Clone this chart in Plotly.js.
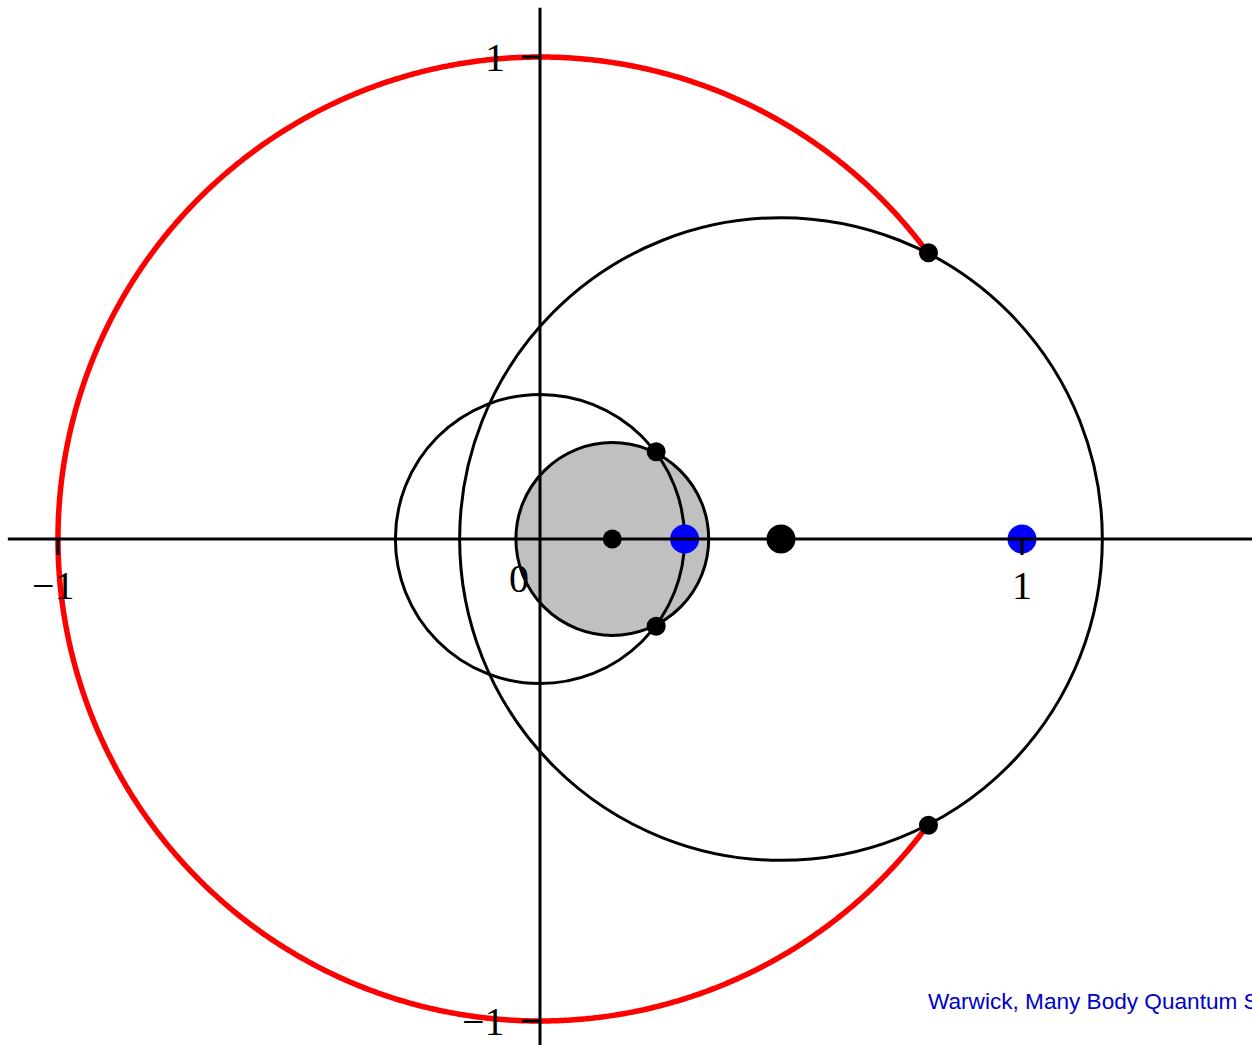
<!DOCTYPE html>
<html>
<head>
<meta charset="utf-8">
<script src="https://cdn.plot.ly/plotly-3.0.1.min.js"></script>
<style>html,body{margin:0;padding:0;background:#fff;}#chart{width:1252px;height:1045px;}</style>
</head>
<body>
<div id="chart"></div>
<script>
// ---- data ----
// full circles: centre x, centre y, radius
const circleCx = [0.15, 0.0, 0.5];
const circleCy = [0.0, 0.0, 0.0];
const circleR  = [0.2, 0.3, 0.6667];
const circleFill = ['#c0c0c0', 'rgba(0,0,0,0)', 'rgba(0,0,0,0)'];
// red unit-circle arc (outside the big circle)
const arcCx = 0, arcCy = 0, arcR = 1.0;
// small black points (intersections and centre of the grey disc)
const smallDotX = [0.806, 0.806, 0.241, 0.241, 0.15];
const smallDotY = [0.594, -0.594, 0.181, -0.181, 0.0];
// large black point (centre of the big circle)
const bigDotX = [0.5];
const bigDotY = [0.0];
// blue points
const blueDotX = [0.3, 1.0];
const blueDotY = [0.0, 0.0];
// ticks and labels
const xTickVals = [-1, 1];
const xTickText = ['\u22121', '1'];
const yTickVals = [1, -1];
const yTickText = ['1', '\u22121'];
const originLabel = '0';
const watermark = 'Warwick, Many Body Quantum Systems';

// ---- red arc from the intersection with the big circle ----
const bigCx = circleCx[2], bigR = circleR[2];
const xi = (arcR*arcR - bigR*bigR + bigCx*bigCx) / (2*bigCx);
const yi = Math.sqrt(arcR*arcR - xi*xi);
const th0 = Math.atan2(yi, xi);
const arcX = [], arcY = [];
const N = 720;
for (let i = 0; i <= N; i++) {
  const t = th0 + (2*Math.PI - 2*th0) * i / N;
  arcX.push(arcCx + arcR*Math.cos(t));
  arcY.push(arcCy + arcR*Math.sin(t));
}

const traces = [
  {x: arcX, y: arcY, mode: 'lines', line: {color: '#ff0000', width: 5.5, simplify: false, shape: 'spline', smoothing: 1}, hoverinfo: 'skip'},
  {x: smallDotX, y: smallDotY, mode: 'markers', marker: {color: '#000', size: 19, line: {width: 0}}, hoverinfo: 'skip'},
  {x: bigDotX, y: bigDotY, mode: 'markers', marker: {color: '#000', size: 29, line: {width: 0}}, hoverinfo: 'skip'},
  {x: blueDotX, y: blueDotY, mode: 'markers', marker: {color: '#0000ff', size: 29, line: {width: 0}}, hoverinfo: 'skip'}
];

const shapes = [];
for (let i = 0; i < circleCx.length; i++) {
  shapes.push({type: 'circle', xref: 'x', yref: 'y', layer: 'below',
    x0: circleCx[i]-circleR[i], x1: circleCx[i]+circleR[i],
    y0: circleCy[i]-circleR[i], y1: circleCy[i]+circleR[i],
    fillcolor: circleFill[i], line: {color: '#000', width: 3}});
}
// axis lines (on top)
const xr = [-1.1203, 1.4772], yr = [-1.0498, 1.1183];
shapes.push({type: 'line', xref: 'x', yref: 'y', layer: 'above', x0: -1.104, x1: xr[1]+0.01, y0: 0, y1: 0, line: {color: '#000', width: 3}});
shapes.push({type: 'line', xref: 'x', yref: 'y', layer: 'above', x0: 0, x1: 0, y0: yr[0]-0.01, y1: 1.102, line: {color: '#000', width: 3}});
xTickVals.forEach(v => shapes.push({type: 'line', xref: 'x', yref: 'y', layer: 'above', ysizemode: 'pixel', yanchor: 0,
  x0: v, x1: v, y0: 0, y1: -16, line: {color: '#000', width: 3}}));
yTickVals.forEach(v => shapes.push({type: 'line', xref: 'x', yref: 'y', layer: 'above', xsizemode: 'pixel', xanchor: 0,
  x0: -18, x1: 0, y0: v, y1: v, line: {color: '#000', width: 3}}));

const lblFont = {family: '"Liberation Serif", "Times New Roman", serif', size: 40, color: '#000'};
const annotations = [];
xTickVals.forEach((v, i) => annotations.push({xref: 'x', yref: 'y', x: v, y: 0, text: xTickText[i], showarrow: false,
  xanchor: 'center', yanchor: 'middle', xshift: v < 0 ? -4 : 0, yshift: -46, font: lblFont}));
yTickVals.forEach((v, i) => annotations.push({xref: 'x', yref: 'y', x: 0, y: v, text: yTickText[i], showarrow: false,
  xanchor: 'right', yanchor: 'middle', xshift: -33, yshift: 0, font: lblFont}));
annotations.push({xref: 'x', yref: 'y', x: 0, y: 0, text: originLabel, showarrow: false,
  xanchor: 'center', yanchor: 'middle', xshift: -21, yshift: -39, font: lblFont});
annotations.push({xref: 'paper', yref: 'paper', x: 926/1252, y: 1 - 1001/1045, text: watermark, showarrow: false,
  xanchor: 'left', yanchor: 'middle', font: {family: '"Liberation Sans", Arial, sans-serif', size: 22.6, color: '#0000c8'}});

const layout = {
  width: 1252, height: 1045,
  margin: {l: 0, r: 0, t: 0, b: 0, pad: 0},
  paper_bgcolor: '#fff', plot_bgcolor: '#fff',
  showlegend: false,
  xaxis: {range: xr, visible: false, showgrid: false, zeroline: false, fixedrange: true},
  yaxis: {range: yr, visible: false, showgrid: false, zeroline: false, fixedrange: true},
  shapes: shapes,
  annotations: annotations
};

Plotly.newPlot('chart', traces, layout, {displayModeBar: false, staticPlot: true});
</script>
</body>
</html>
